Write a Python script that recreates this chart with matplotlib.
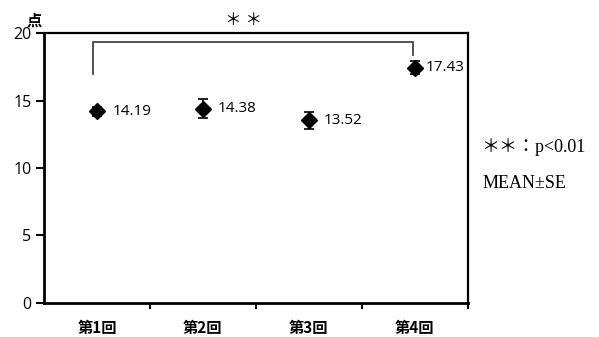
import matplotlib
matplotlib.use("Agg")
import matplotlib.pyplot as plt
import numpy as np

plt.rcParams['font.family'] = ['Noto Sans', 'Noto Sans CJK JP', 'DejaVu Sans']

sessions = ["第1回", "第2回", "第3回", "第4回"]
means = [14.19, 14.38, 13.52, 17.43]
se = [0.35, 0.7, 0.6, 0.5]
yticks = [0, 5, 10, 15, 20]

fig = plt.figure(figsize=(5.99, 3.37), dpi=100)
ax = fig.add_axes([0.0735, 0.101, 0.7075, 0.801])

x = np.arange(len(sessions))
ax.errorbar(x, means, yerr=se, fmt='D', color='black', markersize=8,
            ecolor='black', elinewidth=1.2, capsize=3.5, capthick=1.2, zorder=3)

label_dx = [0.15, 0.14, 0.14, 0.10]
for xi, m, dx in zip(x, means, label_dx):
    ax.text(xi + dx, m, f"{m:.2f}", va='center', ha='left', fontsize=11,
            family=['Open Sans', 'DejaVu Sans'])

ax.set_xlim(-0.5, len(sessions) - 0.5)
ax.set_ylim(0, 20)
ax.set_yticks(yticks)
ax.set_yticklabels([str(t) for t in yticks], fontsize=11.5,
                   family=['Open Sans', 'DejaVu Sans'])
ax.set_xticks(x + 0.5, minor=False)
ax.set_xticklabels([])
ax.set_xticks(x, minor=True)
ax.set_xticklabels(sessions, minor=True, fontsize=11, fontweight='bold',
                   family=['Noto Sans CJK JP'])
ax.tick_params(axis='x', which='major', direction='out', length=4, width=1.5)
ax.tick_params(axis='x', which='minor', length=0, pad=12)
ax.tick_params(axis='y', direction='out', length=6, width=1.5, pad=3)

for side in ['left', 'bottom']:
    ax.spines[side].set_linewidth(2)
for side in ['top', 'right']:
    ax.spines[side].set_linewidth(1.6)

# significance bracket between first and last session
bx0, bx1 = x[0] - 0.04, x[3] - 0.02
ax.plot([bx0, bx0, bx1, bx1], [17.0, 19.33, 19.33, 18.4], color='#444444',
        lw=1.3, solid_joinstyle='miter', clip_on=False)
ax.text((x[0] + x[3]) / 2 - 0.12, 20.3, "＊ ＊", ha='center', va='bottom',
        fontsize=12, family=['Noto Sans CJK JP'])

ax.text(-0.52, 20.35, "点", ha='right', va='bottom', fontsize=11,
        fontweight='bold', family=['Noto Sans CJK JP'],
        transform=ax.transData)

fig.text(0.804, 0.563, "＊＊：p<0.01", fontsize=13, va='center', ha='left',
         family=['Liberation Serif', 'Noto Sans CJK JP'])
fig.text(0.806, 0.455, "MEAN±SE", fontsize=13, va='center', ha='left',
         family=['Liberation Serif', 'Noto Sans CJK JP'])

fig.savefig("out.png", dpi=100)
